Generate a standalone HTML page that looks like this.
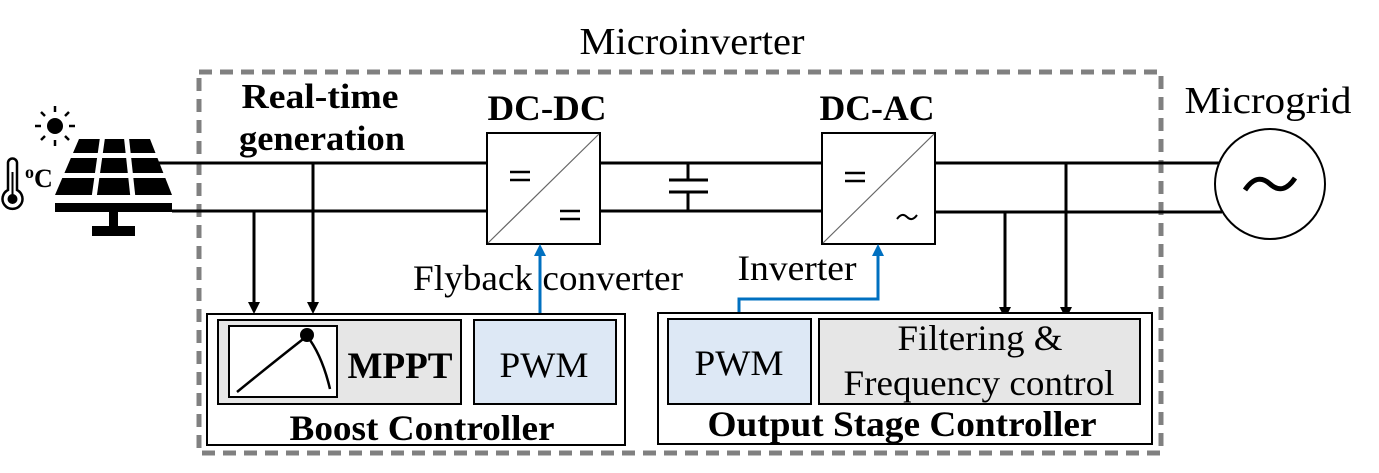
<!DOCTYPE html>
<html><head><meta charset="utf-8"><style>
html,body{margin:0;padding:0;background:#fff;}
svg{display:block;}
svg text{font-family:"Liberation Serif","Times New Roman",serif;}
</style></head><body>
<svg width="1379" height="473" viewBox="0 0 1379 473" xmlns="http://www.w3.org/2000/svg" font-family="'Liberation Serif', serif">
<rect x="199" y="72" width="962" height="381" fill="none" stroke="#808080" stroke-width="5" stroke-dasharray="13,8"/>
<text x="692" y="54" font-size="38" text-anchor="middle" textLength="225" lengthAdjust="spacingAndGlyphs">Microinverter</text>
<text x="1268" y="113" font-size="38" text-anchor="middle" textLength="167" lengthAdjust="spacingAndGlyphs">Microgrid</text>

<g stroke="#000" stroke-width="3" fill="none">
<line x1="155" y1="163" x2="487" y2="163"/>
<line x1="172" y1="211" x2="487" y2="211"/>
<line x1="600" y1="163" x2="822" y2="163"/>
<line x1="600" y1="211" x2="822" y2="211"/>
<line x1="935" y1="163" x2="1220" y2="163"/>
<line x1="935" y1="212" x2="1222" y2="212"/>
<line x1="688" y1="163" x2="688" y2="180"/>
<line x1="688" y1="192" x2="688" y2="211"/>
<line x1="669" y1="180" x2="708" y2="180"/>
<line x1="669" y1="192" x2="708" y2="192"/>
<line x1="254" y1="211" x2="254" y2="304"/>
<line x1="313" y1="163" x2="313" y2="304"/>
<line x1="1005" y1="212" x2="1005" y2="309"/>
<line x1="1066" y1="163" x2="1066" y2="309"/>
</g>
<g fill="#000">
<path d="M248,302 L260,302 L254,314 z"/>
<path d="M307,302 L319,302 L313,314 z"/>
<path d="M999,307 L1011,307 L1005,319 z"/>
<path d="M1060,307 L1072,307 L1066,319 z"/>
</g>

<rect x="487" y="133" width="113" height="111" fill="#fff" stroke="#000" stroke-width="2"/>
<line x1="488" y1="243" x2="599" y2="134" stroke="#666" stroke-width="1.2"/>
<g stroke="#000" stroke-width="2.5">
<line x1="510" y1="172" x2="530" y2="172"/><line x1="510" y1="180" x2="530" y2="180"/>
<line x1="560" y1="211" x2="580" y2="211"/><line x1="560" y1="219" x2="580" y2="219"/>
</g>
<rect x="822" y="133" width="113" height="111" fill="#fff" stroke="#000" stroke-width="2"/>
<line x1="823" y1="243" x2="934" y2="134" stroke="#666" stroke-width="1.2"/>
<g stroke="#000" stroke-width="2.5">
<line x1="845" y1="173" x2="865" y2="173"/><line x1="845" y1="181" x2="865" y2="181"/>
</g>
<path d="M897,219 Q902,212 907,217 Q912,222 917,215" fill="none" stroke="#000" stroke-width="2"/>

<text x="547" y="120" font-size="36" font-weight="bold" text-anchor="middle" textLength="119" lengthAdjust="spacingAndGlyphs">DC-DC</text>
<text x="877" y="120" font-size="36" font-weight="bold" text-anchor="middle" textLength="115" lengthAdjust="spacingAndGlyphs">DC-AC</text>
<text x="320" y="108" font-size="35" font-weight="bold" text-anchor="middle" textLength="157" lengthAdjust="spacingAndGlyphs">Real-time</text>
<text x="322" y="150" font-size="35" font-weight="bold" text-anchor="middle" textLength="166" lengthAdjust="spacingAndGlyphs">generation</text>

<circle cx="1270" cy="184" r="55" fill="#fff" stroke="#000" stroke-width="2"/>
<path d="M1245,190 Q1257,172 1270,184 Q1283,196 1295,178" fill="none" stroke="#000" stroke-width="5"/>

<g stroke="#0070c0" stroke-width="3" fill="none">
<line x1="540" y1="320" x2="540" y2="254"/>
<polyline points="739,318 739,299 878,299 878,254"/>
</g>
<path d="M534,256 L546,256 L540,244 z" fill="#0070c0"/>
<path d="M872,256 L884,256 L878,244 z" fill="#0070c0"/>
<text x="548" y="290" font-size="36" text-anchor="middle" textLength="270" lengthAdjust="spacingAndGlyphs">Flyback converter</text>
<text x="797" y="280" font-size="36" text-anchor="middle" textLength="119" lengthAdjust="spacingAndGlyphs">Inverter</text>

<rect x="207" y="314" width="418" height="131" fill="#fff" stroke="#000" stroke-width="2"/>
<rect x="218" y="320" width="243" height="84" fill="#e6e6e6" stroke="#000" stroke-width="2"/>
<rect x="229" y="326" width="108" height="71" fill="#fff" stroke="#000" stroke-width="2"/>
<path d="M237,392 Q270,365 307,336 Q322,355 330,389" fill="none" stroke="#000" stroke-width="2.5"/>
<circle cx="307" cy="335" r="7" fill="#000"/>
<text x="400" y="378" font-size="37" font-weight="bold" text-anchor="middle" textLength="105" lengthAdjust="spacingAndGlyphs">MPPT</text>
<rect x="474" y="320" width="142" height="84" fill="#dde8f5" stroke="#000" stroke-width="2"/>
<text x="544" y="377" font-size="36" text-anchor="middle" textLength="89" lengthAdjust="spacingAndGlyphs">PWM</text>
<text x="422" y="440" font-size="36" font-weight="bold" text-anchor="middle" textLength="265" lengthAdjust="spacingAndGlyphs">Boost Controller</text>

<rect x="658" y="313" width="494" height="131" fill="#fff" stroke="#000" stroke-width="2"/>
<rect x="668" y="319" width="143" height="85" fill="#dde8f5" stroke="#000" stroke-width="2"/>
<text x="739" y="375" font-size="36" text-anchor="middle" textLength="89" lengthAdjust="spacingAndGlyphs">PWM</text>
<rect x="819" y="319" width="321" height="85" fill="#e6e6e6" stroke="#000" stroke-width="2"/>
<text x="980" y="350" font-size="36" text-anchor="middle" textLength="165" lengthAdjust="spacingAndGlyphs">Filtering &amp;</text>
<text x="979" y="395" font-size="36" text-anchor="middle" textLength="271" lengthAdjust="spacingAndGlyphs">Frequency control</text>
<text x="902" y="436" font-size="36" font-weight="bold" text-anchor="middle" textLength="389" lengthAdjust="spacingAndGlyphs">Output Stage Controller</text>

<polygon points="79,139 150,139 172,195 55,195" fill="#000"/>
<g stroke="#fff" stroke-width="5">
<line x1="50" y1="155.5" x2="180" y2="155.5"/>
<line x1="50" y1="175.5" x2="180" y2="175.5"/>
<line x1="102.7" y1="136" x2="94" y2="198"/>
<line x1="126.3" y1="136" x2="133" y2="198"/>
</g>
<rect x="55" y="203" width="117" height="9" fill="#000"/>
<rect x="109" y="212" width="9" height="15" fill="#000"/>
<rect x="92" y="226" width="43" height="10" fill="#000"/>
<circle cx="55" cy="126" r="8" fill="#000"/>
<g stroke="#000" stroke-width="2.5">
<line x1="55" y1="106" x2="55" y2="112"/><line x1="55" y1="140" x2="55" y2="146"/>
<line x1="35" y1="126" x2="41" y2="126"/><line x1="69" y1="126" x2="75" y2="126"/>
<line x1="41" y1="112" x2="45" y2="116"/><line x1="65" y1="136" x2="69" y2="140"/>
<line x1="69" y1="112" x2="65" y2="116"/><line x1="45" y1="136" x2="41" y2="140"/>
</g>
<path d="M8,190 L8,163 A4.5,4.5 0 0 1 17,163 L17,190 A10,10 0 1 1 8,190 z" fill="none" stroke="#000" stroke-width="2.5"/>
<circle cx="12.5" cy="199" r="5" fill="#000"/>
<line x1="12.5" y1="172" x2="12.5" y2="197" stroke="#000" stroke-width="2"/>
<text x="25" y="178" font-size="18" font-weight="bold">o</text>
<text x="34" y="187" font-size="26" font-weight="bold">C</text>
</svg>
</body></html>
